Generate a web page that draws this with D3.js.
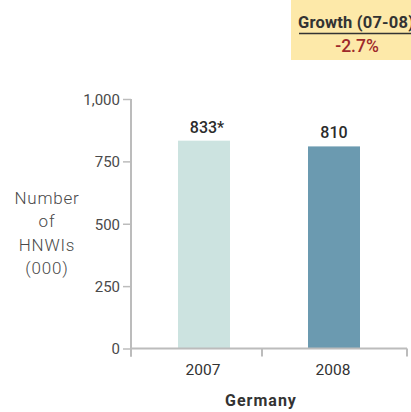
<!DOCTYPE html>
<html><head><meta charset="utf-8">
<script src="https://cdn.jsdelivr.net/npm/d3@7"></script>
<style>
html,body{margin:0;padding:0;background:#fff;}
svg{display:block;font-family:Roboto, "DejaVu Sans", sans-serif;}
</style></head>
<body><svg id="c" width="411" height="412"></svg>
<script>
const categories = ["2007", "2008"];
const values = [833, 810];
const valueLabels = ["833*", "810"];
const barColors = ["#cce3e0", "#6b9ab0"];
const yTicks = [0, 250, 500, 750, 1000];
const yTitle = ["Number", "of", "HNWIs", "(000)"];
const xTitle = "Germany";
const growthTitle = "Growth (07-08)";
const growthValue = "-2.7%";

const svg = d3.select("#c");
const axisColor = "#bcbcbc";
const y = d3.scaleLinear().domain([0, 1000]).range([348.5, 99]);
const x = d3.scaleBand().domain(categories).range([139, 399]).paddingInner(0).paddingOuter(0);
const barW = 52;
const axisX = 131, axisRight = 407;

// growth box
const g0 = svg.append("g");
g0.append("rect").attr("x", 291).attr("y", 0).attr("width", 120).attr("height", 60).attr("fill", "#fde9a9");
g0.append("text").attr("x", 298).attr("y", 28).attr("font-size", 16.5).attr("font-weight", 700)
  .attr("fill", "#333").attr("letter-spacing", 0.2).text(growthTitle);
g0.append("line").attr("x1", 299).attr("x2", 411).attr("y1", 33.5).attr("y2", 33.5).attr("stroke", "#333").attr("stroke-width", 1.3);
g0.append("text").attr("x", 357).attr("y", 52).attr("text-anchor", "middle").attr("font-size", 17.5).attr("font-weight", 500)
  .attr("fill", "#9e2a2b").text(growthValue);

// y axis
const ya = svg.append("g").attr("transform", `translate(${axisX},0)`)
  .call(d3.axisLeft(y).tickValues(yTicks).tickSize(8).tickPadding(3).tickFormat(d3.format(",")));
ya.select(".domain").remove();
ya.append("line").attr("x1", 0).attr("x2", 0).attr("y1", y(1000)).attr("y2", y(0) + 8).attr("stroke", axisColor).attr("stroke-width", 2);
ya.selectAll(".tick line").attr("stroke", axisColor).attr("stroke-width", 1.5);
ya.selectAll(".tick text").attr("fill", "#4a4a4a").attr("font-size", 15).attr("font-family", "Roboto, sans-serif").attr("font-weight", 400).attr("dy", "0.35em");

// bars
svg.append("g").selectAll("rect").data(categories).join("rect")
  .attr("x", d => x(d) + x.bandwidth() / 2 - barW / 2)
  .attr("width", barW)
  .attr("y", (d, i) => y(values[i]))
  .attr("height", (d, i) => y(0) - y(values[i]))
  .attr("fill", (d, i) => barColors[i]);

svg.append("g").selectAll("text").data(categories).join("text")
  .attr("x", (d, i) => x(d) + x.bandwidth() / 2 + (valueLabels[i].endsWith("*") ? 3 : 0))
  .attr("y", (d, i) => y(values[i]) - 8)
  .attr("text-anchor", "middle").attr("font-size", 16).attr("font-weight", 500).attr("fill", "#2b2b2b")
  .text((d, i) => valueLabels[i]);

// x axis
const xa = svg.append("g");
xa.append("line").attr("x1", axisX).attr("x2", axisRight).attr("y1", y(0)).attr("y2", y(0)).attr("stroke", axisColor).attr("stroke-width", 2);
const dividers = [axisX, x("2008") - 7, axisRight];
xa.selectAll("line.t").data(dividers).join("line").attr("class", "t")
  .attr("x1", d => d).attr("x2", d => d).attr("y1", y(0)).attr("y2", y(0) + 8)
  .attr("stroke", axisColor).attr("stroke-width", 2);
xa.selectAll("text").data(categories).join("text")
  .attr("x", d => x(d) + x.bandwidth() / 2 - 1).attr("y", 375)
  .attr("text-anchor", "middle").attr("font-size", 15.5).attr("font-weight", 400).attr("fill", "#333")
  .text(d => d);

svg.append("text").attr("x", 261).attr("y", 406).attr("text-anchor", "middle")
  .attr("font-size", 16).attr("font-weight", 700).attr("fill", "#333").attr("letter-spacing", 1).text(xTitle);

// y title
svg.append("g").selectAll("text").data(yTitle).join("text")
  .attr("x", 47).attr("y", (d, i) => 204 + i * 23.3)
  .attr("text-anchor", "middle").attr("font-size", 17).attr("font-weight", 300).attr("fill", "#4a4a4a")
  .attr("letter-spacing", 0.8)
  .text(d => d);
</script></body></html>
